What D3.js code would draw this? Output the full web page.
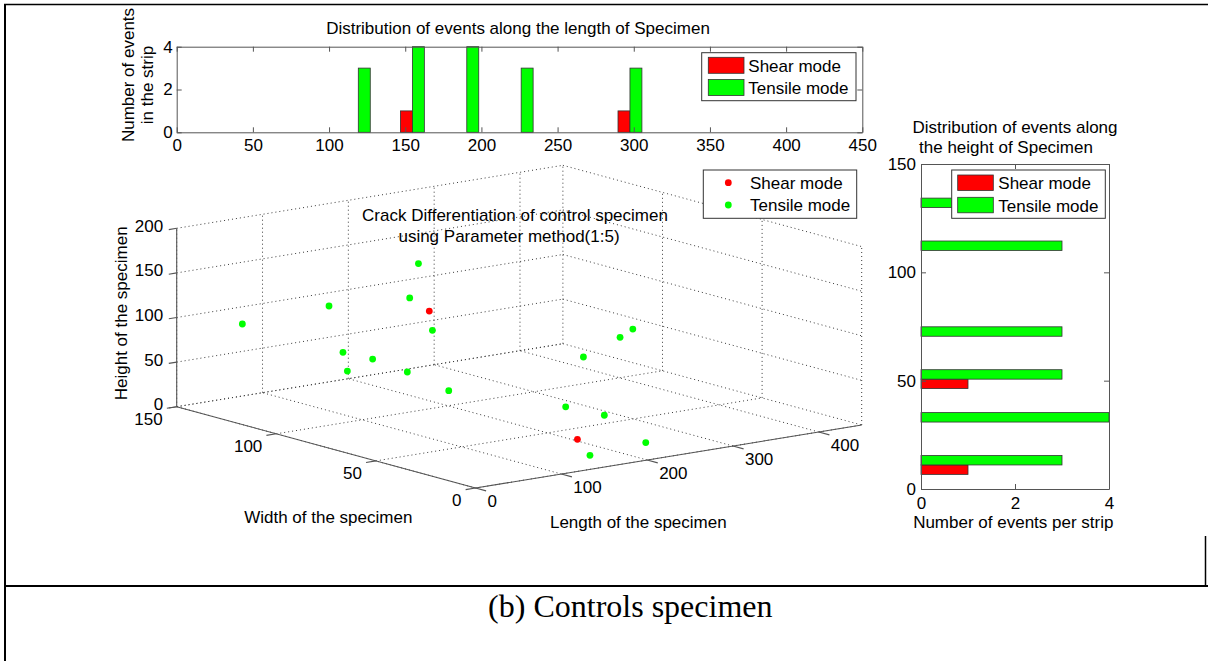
<!DOCTYPE html>
<html>
<head>
<meta charset="utf-8">
<script src="https://cdn.jsdelivr.net/npm/d3@7"></script>
<style>
body{margin:0;background:#fff;}
svg{display:block;}
text{font-family:"Liberation Sans",Arial,Helvetica,sans-serif;fill:#000;}
</style>
</head>
<body>
<svg id="chart" width="1208" height="661"></svg>
<script>
// ---------------- DATA ----------------
// Length histogram (top)
const lengthBins    = [119.2, 154.7, 190.4, 226.1, 261.8, 297.5];
const lengthShear   = [0, 1, 0, 0, 0, 1];
const lengthTensile = [3, 4, 4, 3, 0, 3];
const lengthTicks   = [0, 50, 100, 150, 200, 250, 300, 350, 400, 450];
const countTicksTop = [0, 2, 4];

// Height histogram (right)
const heightBins    = [11.1, 30.9, 50.7, 70.5, 90.3, 110.1, 129.9];
const heightShear   = [1, 0, 1, 0, 0, 0, 0];
const heightTensile = [3, 4, 3, 3, 0, 3, 1];
const heightHistTicks = [0, 50, 100, 150];
const countTicksRight = [0, 2, 4];

// 3D scatter (length, width, height)
const shearLength   = [292, 154.5];
const shearWidth    = [149, 15.4];
const shearHeight   = [62, 21];
const tensileLength = [70, 119, 281, 190.5, 226, 154.5, 154.5, 190.5, 190.5, 154.5, 190.5, 297.5, 297.5, 119, 226, 226, 154.5];
const tensileWidth  = [147.2, 124.8, 149.7, 115.1, 119.0, 133.1, 118.2, 146.4, 116.3, 80.0, 9.5, 49.2, 74.0, 6.0, 32.7, 11.9, 9.1];
const tensileHeight = [83.4, 109.5, 116.5, 113.2, 69.0, 47.0, 48.5, 12.2, 29.5, 36.2, 133.3, 101.6, 55.2, 68.7, 26.2, 8.2, 6.9];
const length3DTicks = [0, 100, 200, 300, 400];
const width3DTicks  = [0, 50, 100, 150];
const height3DTicks = [0, 50, 100, 150, 200];

// ---------------- DRAW ----------------
const FONT = 17;
const AXC = '#555';
const RED = '#ff0000', GREEN = '#00ff00';
const fmtInt = d3.format('d');
const svg = d3.select('#chart');

// page borders (table cell lines)
svg.append('line').attr('x1',4).attr('y1',4.5).attr('x2',1208).attr('y2',4.5).attr('stroke','#000').attr('stroke-width',1.5);
svg.append('line').attr('x1',5).attr('y1',4).attr('x2',5).attr('y2',661).attr('stroke','#000').attr('stroke-width',2);
svg.append('line').attr('x1',4).attr('y1',586).attr('x2',1208).attr('y2',586).attr('stroke','#000').attr('stroke-width',2);
svg.append('line').attr('x1',1205.5).attr('y1',536).attr('x2',1205.5).attr('y2',586).attr('stroke','#000').attr('stroke-width',1.5);

function styleAxis(g){
  g.attr('font-size',FONT).attr('font-family','"Liberation Sans",Arial,sans-serif').attr('color',AXC);
  g.selectAll('text').attr('fill','#000');
  g.select('.domain').attr('stroke',AXC);
}
function txt(parent,x,y,s,opt={}){
  const t = parent.append('text').attr('x',x).attr('y',y).attr('font-size',opt.size||FONT)
    .attr('text-anchor',opt.anchor||'middle').attr('dy',opt.dy||'0.35em').text(s);
  if(opt.rotate) t.attr('transform',`rotate(${opt.rotate},${x},${y})`);
  if(opt.family) t.style('font-family',opt.family);
  return t;
}

// ===== Top histogram =====
{
  const x = d3.scaleLinear().domain([0,450]).range([176.7,862.3]);
  const y = d3.scaleLinear().domain([0,4]).range([132.3,46.7]);
  const g = svg.append('g');
  const step = (lengthBins[lengthBins.length-1]-lengthBins[0])/(lengthBins.length-1);
  const bw = 0.22*step;
  const sh = lengthBins.map((b,i)=>({b,v:lengthShear[i]})).filter(d=>d.v>0);
  const te = lengthBins.map((b,i)=>({b,v:lengthTensile[i]})).filter(d=>d.v>0);
  g.selectAll('rect.s').data(sh).join('rect').attr('class','s')
    .attr('x',d=>x(d.b-bw)).attr('width',d=>x(d.b)-x(d.b-bw))
    .attr('y',d=>y(d.v)).attr('height',d=>y(0)-y(d.v))
    .attr('fill',RED).attr('stroke','#333').attr('stroke-width',0.8);
  g.selectAll('rect.t').data(te).join('rect').attr('class','t')
    .attr('x',d=>x(d.b)).attr('width',d=>x(d.b+bw)-x(d.b))
    .attr('y',d=>y(d.v)).attr('height',d=>y(0)-y(d.v))
    .attr('fill',GREEN).attr('stroke','#333').attr('stroke-width',0.8);

  g.append('g').attr('transform',`translate(0,${y(0)})`)
    .call(d3.axisBottom(x).tickValues(lengthTicks).tickSize(-5).tickSizeOuter(0).tickPadding(7).tickFormat(fmtInt)).call(styleAxis);
  g.append('g').attr('transform',`translate(0,${y(4)})`)
    .call(d3.axisTop(x).tickValues(lengthTicks).tickSize(-5).tickSizeOuter(0).tickFormat('')).call(styleAxis);
  g.append('g').attr('transform',`translate(${x(0)},0)`)
    .call(d3.axisLeft(y).tickValues(countTicksTop).tickSize(-5).tickSizeOuter(0).tickPadding(4).tickFormat(fmtInt)).call(styleAxis);
  g.append('g').attr('transform',`translate(${x(450)},0)`)
    .call(d3.axisRight(y).tickValues(countTicksTop).tickSize(-5).tickSizeOuter(0).tickFormat('')).call(styleAxis);

  txt(g,518,28.3,'Distribution of events along the length of Specimen');
  txt(g,128,75,'Number of events',{rotate:-90});
  txt(g,146.7,85,'in the strip',{rotate:-90});

  // legend
  const lg = g.append('g');
  lg.append('rect').attr('x',701.7).attr('y',52.7).attr('width',154.3).attr('height',48)
    .attr('fill','#fff').attr('stroke','#333');
  lg.append('rect').attr('x',708.3).attr('y',57.3).attr('width',35.7).attr('height',16)
    .attr('fill',RED).attr('stroke','#333').attr('stroke-width',0.8);
  lg.append('rect').attr('x',708.3).attr('y',79.5).attr('width',35.7).attr('height',16)
    .attr('fill',GREEN).attr('stroke','#333').attr('stroke-width',0.8);
  txt(lg,748.3,65.7,'Shear mode',{anchor:'start'});
  txt(lg,748.3,88.3,'Tensile mode',{anchor:'start'});
}

// ===== Right histogram =====
{
  const x = d3.scaleLinear().domain([0,4]).range([921,1109]);
  const y = d3.scaleLinear().domain([0,150]).range([489,164]);
  const g = svg.append('g');
  const step = (heightBins[heightBins.length-1]-heightBins[0])/(heightBins.length-1);
  const bw = 0.22*step;
  const sh = heightBins.map((b,i)=>({b,v:heightShear[i]})).filter(d=>d.v>0);
  const te = heightBins.map((b,i)=>({b,v:heightTensile[i]})).filter(d=>d.v>0);
  g.selectAll('rect.s').data(sh).join('rect').attr('class','s')
    .attr('x',x(0)).attr('width',d=>x(d.v)-x(0))
    .attr('y',d=>y(d.b)).attr('height',d=>y(d.b-bw)-y(d.b))
    .attr('fill',RED).attr('stroke','#333').attr('stroke-width',0.8);
  g.selectAll('rect.t').data(te).join('rect').attr('class','t')
    .attr('x',x(0)).attr('width',d=>x(d.v)-x(0))
    .attr('y',d=>y(d.b+bw)).attr('height',d=>y(d.b)-y(d.b+bw))
    .attr('fill',GREEN).attr('stroke','#333').attr('stroke-width',0.8);

  g.append('g').attr('transform',`translate(0,${y(0)})`)
    .call(d3.axisBottom(x).tickValues(countTicksRight).tickSize(-5).tickSizeOuter(0).tickPadding(8).tickFormat(fmtInt)).call(styleAxis);
  g.append('g').attr('transform',`translate(0,${y(150)})`)
    .call(d3.axisTop(x).tickValues(countTicksRight).tickSize(-5).tickSizeOuter(0).tickFormat('')).call(styleAxis);
  g.append('g').attr('transform',`translate(${x(0)},0)`)
    .call(d3.axisLeft(y).tickValues(heightHistTicks).tickSize(-5).tickSizeOuter(0).tickPadding(5).tickFormat(fmtInt)).call(styleAxis);
  g.append('g').attr('transform',`translate(${x(4)},0)`)
    .call(d3.axisRight(y).tickValues(heightHistTicks).tickSize(-5).tickSizeOuter(0).tickFormat('')).call(styleAxis);

  txt(g,1015,126.7,'Distribution of events along');
  txt(g,1006,146.7,'the height of Specimen');
  txt(g,1013.3,521.7,'Number of events per strip');

  const lg = g.append('g');
  lg.append('rect').attr('x',951.7).attr('y',170).attr('width',153.6).attr('height',48.3)
    .attr('fill','#fff').attr('stroke','#333');
  lg.append('rect').attr('x',957.7).attr('y',175).attr('width',35.6).attr('height',15.5)
    .attr('fill',RED).attr('stroke','#333').attr('stroke-width',0.8);
  lg.append('rect').attr('x',957.7).attr('y',197.3).attr('width',35.6).attr('height',15.5)
    .attr('fill',GREEN).attr('stroke','#333').attr('stroke-width',0.8);
  txt(lg,998.3,183.3,'Shear mode',{anchor:'start'});
  txt(lg,998.3,206,'Tensile mode',{anchor:'start'});
}

// ===== 3D scatter =====
{
  const nx = d3.scaleLinear().domain([0,450]).range([0,1]);
  const ny = d3.scaleLinear().domain([0,150]).range([0,1]);
  const nz = d3.scaleLinear().domain([0,200]).range([0,1]);
  const O = [475.5,488], EX = [386.2,-63], EY = [-298.8,-81.3], EZ = [0,-178.4];
  const P = (a,b,c)=>{
    const u=nx(a), v=ny(b), w=nz(c);
    return [O[0]+u*EX[0]+v*EY[0]+w*EZ[0], O[1]+u*EX[1]+v*EY[1]+w*EZ[1]];
  };
  const g = svg.append('g');
  const grid = g.append('g').attr('stroke','#3a3a3a').attr('stroke-width',1).attr('stroke-dasharray','1,3').attr('fill','none');
  const seg = (p,q)=>grid.append('line').attr('x1',p[0]).attr('y1',p[1]).attr('x2',q[0]).attr('y2',q[1]);
  const X1=450, Y1=150, Z1=200;
  length3DTicks.forEach(t=>{ seg(P(t,0,0),P(t,Y1,0)); seg(P(t,Y1,0),P(t,Y1,Z1)); });
  width3DTicks.forEach(t=>{ seg(P(0,t,0),P(X1,t,0)); seg(P(X1,t,0),P(X1,t,Z1)); });
  height3DTicks.forEach(t=>{ seg(P(0,Y1,t),P(X1,Y1,t)); seg(P(X1,Y1,t),P(X1,0,t)); });

  const ax = g.append('g').attr('stroke',AXC).attr('stroke-width',1.1);
  const aseg = (p,q)=>ax.append('line').attr('x1',p[0]).attr('y1',p[1]).attr('x2',q[0]).attr('y2',q[1]);
  aseg(P(0,0,0),P(X1,0,0));
  aseg(P(0,0,0),P(0,Y1,0));
  aseg(P(0,Y1,0),P(0,Y1,Z1));
  const ny_ = Math.hypot(EY[0],EY[1]), nx_ = Math.hypot(EX[0],EX[1]);
  const dMinusY = [-EY[0]/ny_, -EY[1]/ny_], dMinusX = [-EX[0]/nx_, -EX[1]/nx_];
  length3DTicks.forEach(t=>{
    const p=P(t,0,0); aseg(p,[p[0]+dMinusY[0]*11,p[1]+dMinusY[1]*11]);
    txt(g,p[0]+12,p[1]+13,String(t),{anchor:'start'});
  });
  width3DTicks.forEach(t=>{
    const p=P(0,t,0); aseg(p,[p[0]+dMinusX[0]*10,p[1]+dMinusX[1]*10]);
    txt(g,p[0]-14,p[1]+12.5,String(t),{anchor:'end'});
  });
  height3DTicks.forEach(t=>{
    const p=P(0,Y1,t); aseg(p,[p[0]+dMinusX[0]*8,p[1]+dMinusX[1]*8]);
    txt(g,p[0]-13.5,p[1]-2.5,String(t),{anchor:'end'});
  });

  const tens = tensileLength.map((l,i)=>P(l,tensileWidth[i],tensileHeight[i]));
  const shr = shearLength.map((l,i)=>P(l,shearWidth[i],shearHeight[i]));
  g.selectAll('circle.s').data(shr).join('circle').attr('class','s')
    .attr('cx',d=>d[0]).attr('cy',d=>d[1]).attr('r',3.4).attr('fill',RED);
  g.selectAll('circle.t').data(tens).join('circle').attr('class','t')
    .attr('cx',d=>d[0]).attr('cy',d=>d[1]).attr('r',3.4).attr('fill',GREEN);

  txt(g,515,215,'Crack Differentiation of control specimen');
  txt(g,509,236,'using Parameter method(1:5)');
  txt(g,328.3,516.7,'Width of the specimen');
  txt(g,638.3,521.7,'Length of the specimen');
  txt(g,120.7,313.3,'Height of the specimen',{rotate:-90});

  const lg = g.append('g');
  lg.append('rect').attr('x',703.3).attr('y',170).attr('width',153.4).attr('height',48.3)
    .attr('fill','#fff').attr('stroke','#333');
  lg.append('circle').attr('cx',728.3).attr('cy',182.7).attr('r',3.4).attr('fill',RED);
  lg.append('circle').attr('cx',728.3).attr('cy',205).attr('r',3.4).attr('fill',GREEN);
  txt(lg,750,182.7,'Shear mode',{anchor:'start'});
  txt(lg,750,205,'Tensile mode',{anchor:'start'});
}

// caption
svg.append('text').attr('x',630.3).attr('y',616.7).attr('text-anchor','middle')
  .attr('font-size',32).style('font-family','"Liberation Serif","Times New Roman",serif')
  .text('(b) Controls specimen');
</script>
</body>
</html>
